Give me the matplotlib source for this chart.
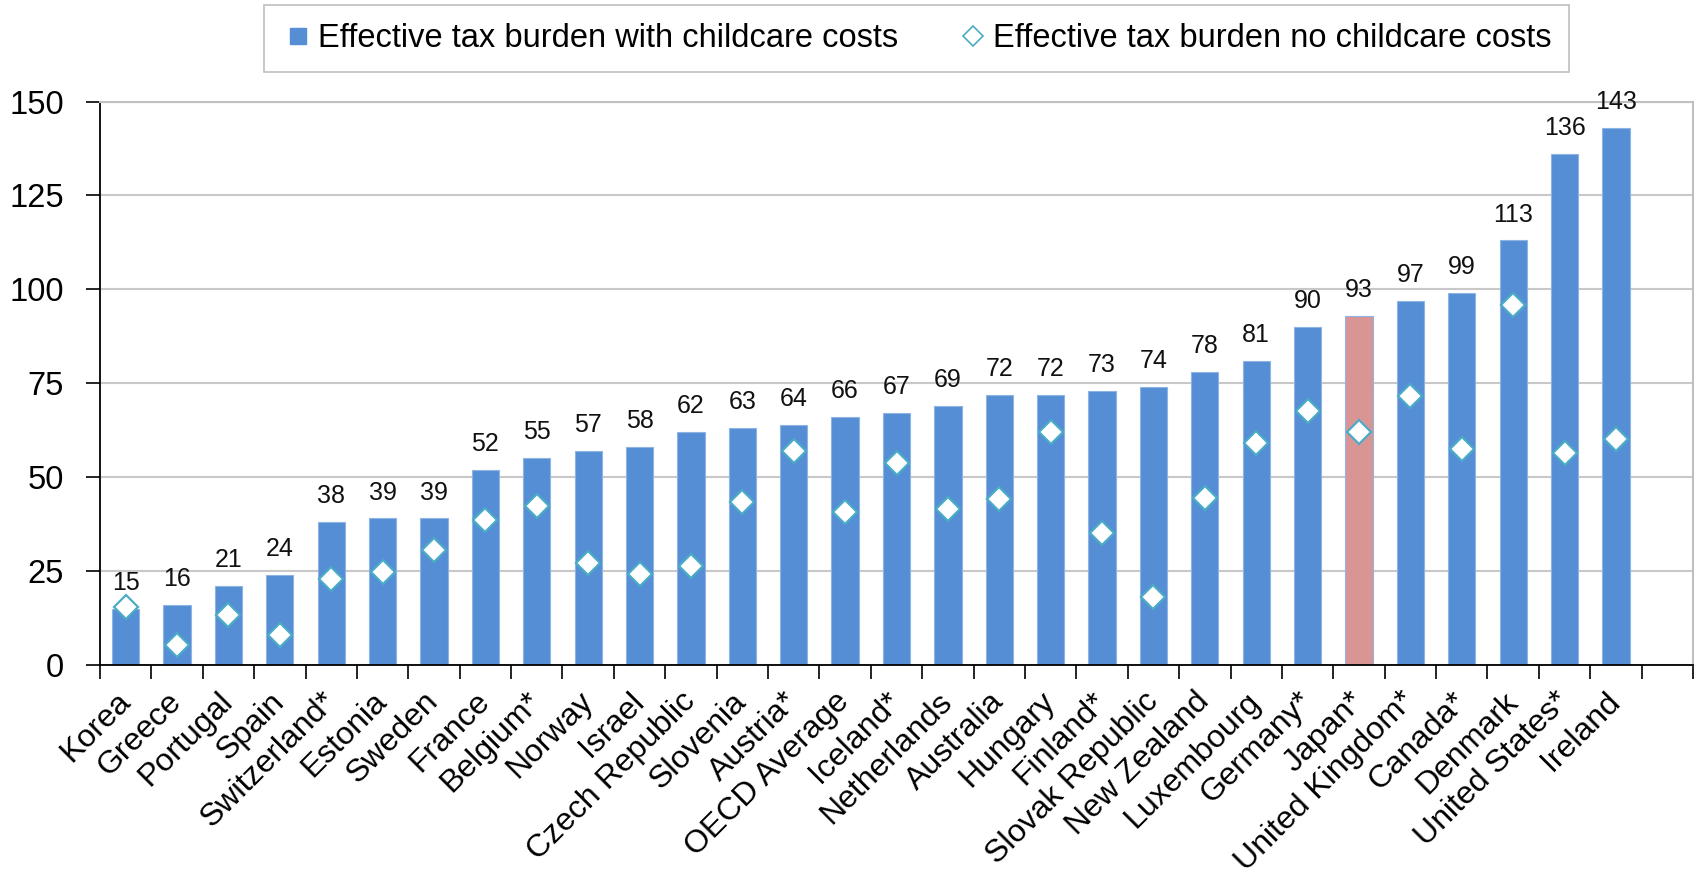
import numpy as np
import matplotlib
matplotlib.use('Agg')
import matplotlib.pyplot as plt
from matplotlib.lines import Line2D

plt.rcParams['font.family'] = ['Liberation Sans', 'DejaVu Sans']

countries = ['Korea', 'Greece', 'Portugal', 'Spain', 'Switzerland*', 'Estonia', 'Sweden',
             'France', 'Belgium*', 'Norway', 'Israel', 'Czech Republic', 'Slovenia', 'Austria*',
             'OECD Average', 'Iceland*', 'Netherlands', 'Australia', 'Hungary', 'Finland*',
             'Slovak Republic', 'New Zealand', 'Luxembourg', 'Germany*', 'Japan*',
             'United Kingdom*', 'Canada*', 'Denmark', 'United States*', 'Ireland']
with_childcare = [15, 16, 21, 24, 38, 39, 39, 52, 55, 57, 58, 62, 63, 64, 66, 67, 69, 72, 72, 73,
                  74, 78, 81, 90, 93, 97, 99, 113, 136, 143]
no_childcare = [15.4, 5.3, 13.3, 8.0, 22.9, 24.8, 30.5, 38.6, 42.3, 27.2, 24.1, 26.4, 43.4, 56.9,
                40.8, 53.7, 41.6, 44.3, 61.9, 35.2, 18.2, 44.5, 59.0, 67.7, 62.1, 71.6, 57.5,
                95.9, 56.3, 60.2]
highlight = 'Japan*'

blue = '#558ED5'
pink = '#D99594'
teal = '#4BACC6'

x = np.arange(len(countries))
colors = [pink if c == highlight else blue for c in countries]

fig = plt.figure(figsize=(16.96, 8.77), dpi=100)
ax = fig.add_axes([100 / 1696, 1 - 665 / 877, 1593 / 1696, 563.5 / 877])

ax.bar(x, with_childcare, width=0.53, color=colors, edgecolor='#8EB4E3', linewidth=0.8, zorder=2)
ax.plot(x, no_childcare, linestyle='none', marker='D', markersize=12, markerfacecolor='white',
        markeredgecolor=teal, markeredgewidth=1.6, zorder=3)

for xi, v in zip(x, with_childcare):
    ax.annotate(str(v), (xi, v), xytext=(0, 10), textcoords='offset points',
                ha='center', va='bottom', fontsize=18, color='#111111')

ax.set_xlim(-0.5, 30.5)
ax.set_ylim(0, 150)
ax.set_yticks([0, 25, 50, 75, 100, 125, 150])
ax.yaxis.grid(True, color='#C8C8C8', linewidth=1.5, zorder=0)
ax.set_axisbelow(True)

# ticks sit on the category boundaries
ax.set_xticks(np.arange(-0.5, 31, 1))
ax.set_xticklabels([])
ax.tick_params(axis='x', length=10, width=1.2, direction='out')
ax.tick_params(axis='y', length=10, width=1.2, labelsize=23.5, pad=16)

# country names under the bars, slanted
for xi, name in zip(x, countries):
    ax.annotate(name, xy=(xi, 0), xycoords=('data', 'axes fraction'),
                xytext=(0, -23), textcoords='offset points',
                rotation=45, rotation_mode='anchor', ha='right', va='center',
                fontsize=23, annotation_clip=False)

for s in ['left', 'bottom']:
    ax.spines[s].set_color('black')
    ax.spines[s].set_linewidth(1.3)
for s in ['top', 'right']:
    ax.spines[s].set_color('#C0C0C0')
    ax.spines[s].set_linewidth(1.5)

handles = [Line2D([], [], linestyle='none', marker='s', markersize=11, color=blue),
           Line2D([], [], linestyle='none', marker='D', markersize=10, markerfacecolor='white',
                  markeredgecolor=teal, markeredgewidth=1.2)]
leg = fig.legend(handles, ['Effective tax burden with childcare costs',
                           'Effective tax burden no childcare costs'],
                 loc='center', bbox_to_anchor=((252 + 1581) / 2 / 1696, 1 - 38.5 / 877),
                 ncol=2, fontsize=23.5, frameon=True, fancybox=False, framealpha=1,
                 edgecolor='#BFBFBF', handletextpad=0.1, columnspacing=1.8,
                 handlelength=1.0, borderpad=0.55)
leg.get_frame().set_linewidth(1.2)

fig.savefig('out.png', dpi=100)
